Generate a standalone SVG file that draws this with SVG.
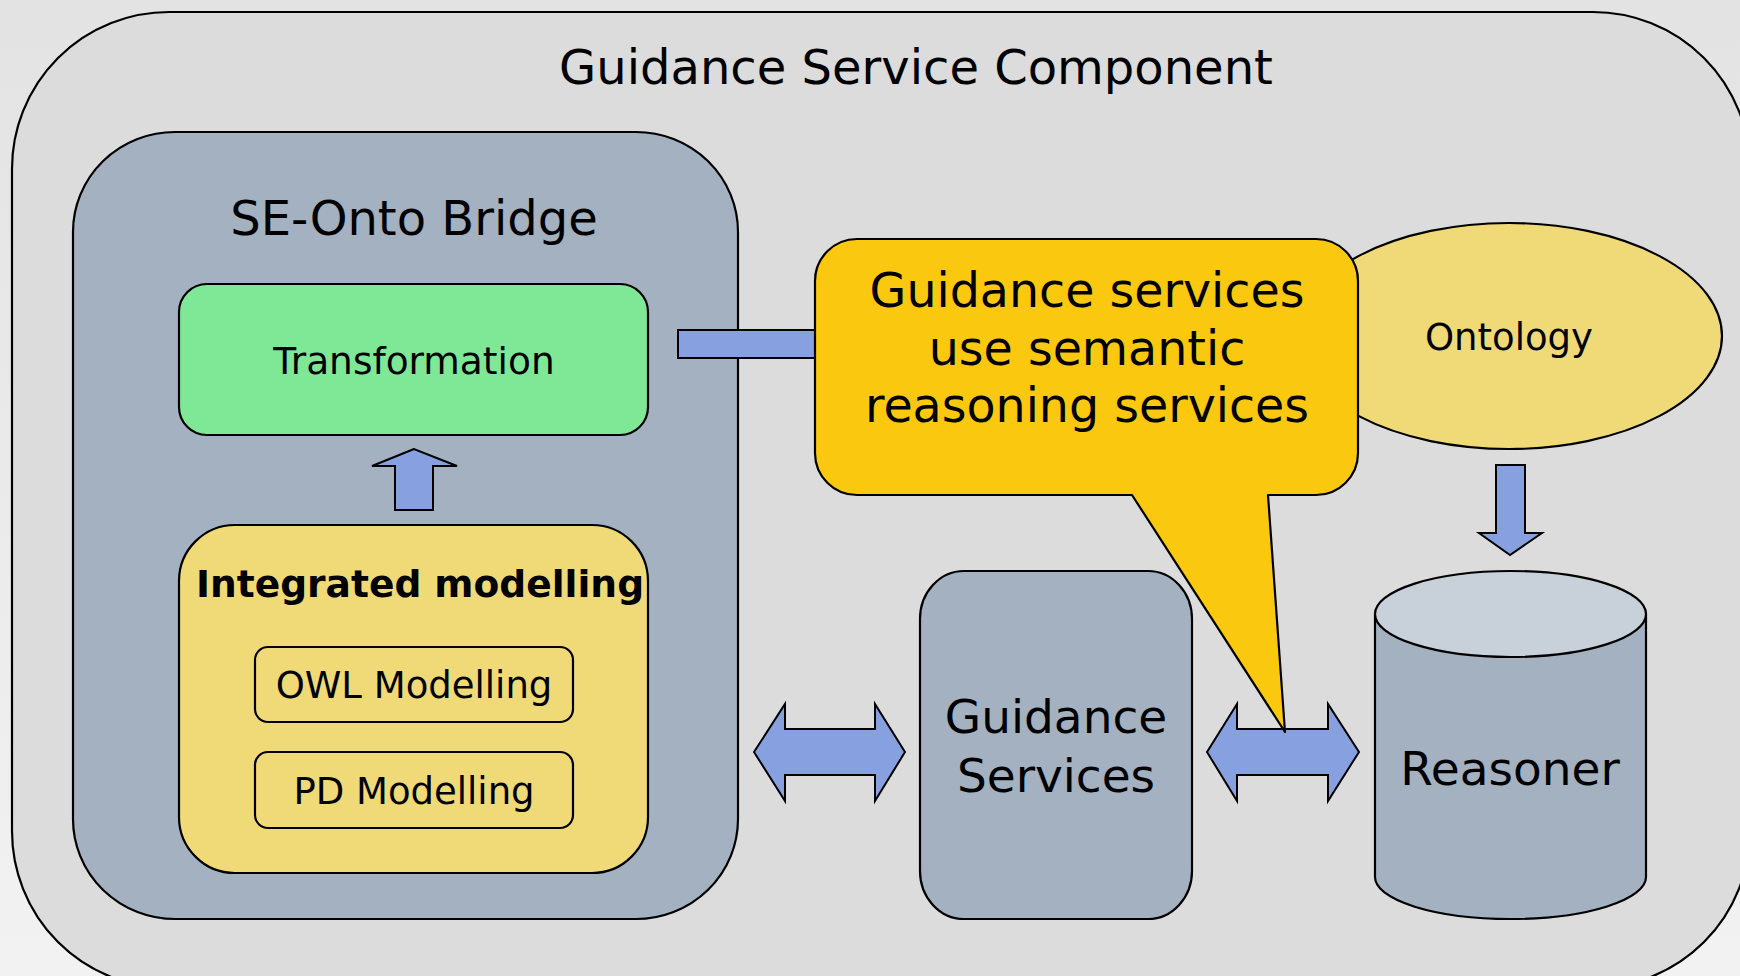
<svg xmlns="http://www.w3.org/2000/svg" width="1740" height="976" viewBox="0 0 1740 976">
  <defs>
    <linearGradient id="bg" x1="0" y1="0" x2="0" y2="1">
      <stop offset="0" stop-color="#e3e3e3"/>
      <stop offset="1" stop-color="#f2f2f2"/>
    </linearGradient>
    <style>
      text { font-family: "DejaVu Sans", "Liberation Sans", sans-serif; fill: #000; text-anchor: middle; }
      .s { stroke: #000; stroke-width: 2.2; stroke-linejoin: round; }
      .blue { fill: #86a0e0; stroke: #000; stroke-width: 2; stroke-linejoin: miter; }
      .slate { fill: #a3b1c0; }
      .sand { fill: #f0da78; }
    </style>
  </defs>
  <rect x="0" y="0" width="1740" height="976" fill="url(#bg)"/>

  <g id="guidance-service-component">
    <rect class="s" x="12" y="12" width="1738" height="976" rx="157" ry="157" fill="#dcdcdc" stroke-width="2.6"/>
    <text x="916" y="84" font-size="48">Guidance Service Component</text>
  </g>

  <g id="se-onto-bridge">
    <rect class="s slate" x="73" y="132" width="665" height="787" rx="102" ry="100"/>
    <text x="414" y="235" font-size="48">SE-Onto Bridge</text>
  </g>

  <g id="transformation">
    <rect class="s" x="179" y="284" width="469" height="151" rx="28" ry="28" fill="#7fe897"/>
    <text x="414" y="374" font-size="37.5">Transformation</text>
  </g>

  <g id="integrated-modelling">
    <rect class="s sand" x="179" y="525" width="469" height="348" rx="56" ry="56"/>
    <text x="420" y="597" font-size="37.6" font-weight="bold">Integrated modelling</text>
  </g>

  <g id="owl-modelling">
    <rect class="s sand" x="255" y="647" width="318" height="75" rx="13" ry="13"/>
    <text x="414" y="698" font-size="37">OWL Modelling</text>
  </g>

  <g id="pd-modelling">
    <rect class="s sand" x="255" y="752" width="318" height="76" rx="13" ry="13"/>
    <text x="414" y="804" font-size="37">PD Modelling</text>
  </g>

  <g id="ontology">
    <ellipse class="s sand" cx="1509" cy="336" rx="213" ry="113"/>
    <text x="1509" y="350" font-size="37">Ontology</text>
  </g>

  <g id="guidance-services">
    <rect class="s slate" x="920" y="571" width="272" height="348" rx="44" ry="48"/>
    <text x="1056" y="733" font-size="47">Guidance</text>
    <text x="1056" y="792" font-size="47">Services</text>
  </g>

  <g id="reasoner">
    <path class="s slate" d="M1375,614 V877 A135.5 42 0 0 0 1646,877 V614 Z"/>
    <ellipse class="s" cx="1510.5" cy="614" rx="135.5" ry="43" fill="#c8d0da"/>
    <text x="1510" y="785" font-size="47">Reasoner</text>
  </g>

  <g id="connectors">
    <path class="blue" d="M414,449 L372,466 H395 V510 H433 V466 H457 Z"/>
    <rect class="blue" x="678" y="330" width="142" height="28"/>
    <path class="blue" d="M1496,465 H1525 V533 H1542 L1510,555 L1479,533 H1496 Z"/>
    <path class="blue" d="M754,752 L785,704 V729 H875 V704 L905,752 L875,801 V775 H785 V801 Z"/>
    <path class="blue" d="M1207,752 L1237,704 V729 H1328 V704 L1359,752 L1328,801 V775 H1237 V801 Z"/>
  </g>

  <g id="callout">
    <path class="s" fill="#fac80e" d="M857,239 H1316 A42 42 0 0 1 1358,281 V453 A42 42 0 0 1 1316,495 H1268 L1285,732 L1132,495 H857 A42 42 0 0 1 815,453 V281 A42 42 0 0 1 857,239 Z"/>
    <text x="1087" y="307" font-size="47.5">Guidance services</text>
    <text x="1087" y="365" font-size="47.5">use semantic</text>
    <text x="1087" y="422" font-size="47.5">reasoning services</text>
  </g>
</svg>
